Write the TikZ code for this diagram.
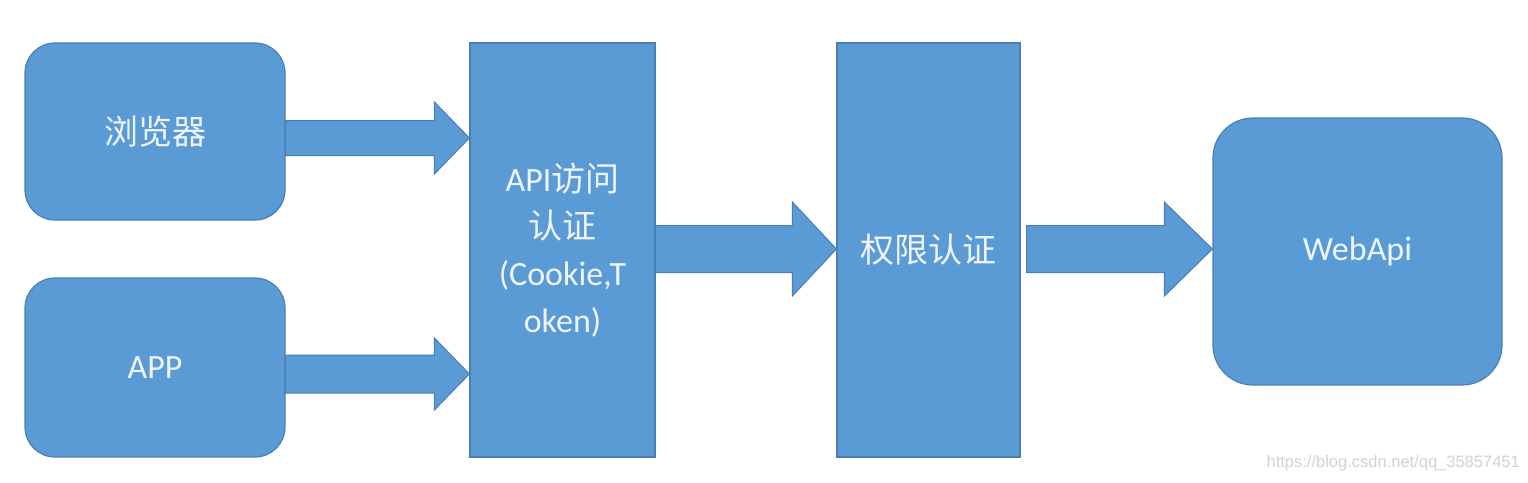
\documentclass[tikz,border=0pt]{standalone}
\usepackage{fontspec}
\setmainfont{Carlito}
\newfontfamily\cjk{Noto Sans CJK SC}
\newfontfamily\wm{Liberation Sans}
\usetikzlibrary{calc}
\definecolor{boxfill}{HTML}{5B9BD5}
\definecolor{boxline}{HTML}{4A7FB5}
\definecolor{txt}{HTML}{EEF4FB}
\definecolor{wmgray}{HTML}{D2D2D2}
\tikzset{
  box/.style={draw=boxline, fill=boxfill, line width=1.2pt, text=txt, align=center,
    inner sep=0pt, font=\fontsize{34}{47}\selectfont},
  roundbox/.style={box, rounded corners=30pt},
  fat/.style={draw=boxline, fill=boxfill, line width=1pt, line join=miter},
}
% #1 start, #2 tip, #3 shaft half width, #4 head half width, #5 head length
\newcommand\fatarrow[5]{%
  \draw[fat] let \p1=(#1), \p2=(#2) in
    (\x1,\y1+#3) -- (\x2-#5,\y1+#3) -- (\x2-#5,\y1+#4) -- (\x2,\y2)
    -- (\x2-#5,\y1-#4) -- (\x2-#5,\y1-#3) -- (\x1,\y1-#3) -- cycle;}
\begin{document}
\begin{tikzpicture}[x=1pt,y=-1pt]
\useasboundingbox[fill=white] (0,0) rectangle (1528,482);
\node[roundbox, minimum width=260pt, minimum height=177pt] (br) at (155,131.5) {\cjk 浏览器};
\node[roundbox, minimum width=260pt, minimum height=179pt] (app) at (155,367.5) {APP};
\node[box, minimum width=185pt, minimum height=414pt] (api) at (562.5,250)
  {API{\cjk 访问}\\{\cjk 认证}\\(Cookie,T\\oken)};
\node[box, minimum width=183pt, minimum height=414pt] (perm) at (928.5,250) {\cjk 权限认证};
\node[box, rounded corners=40pt, minimum width=289pt, minimum height=267pt] (web) at (1357.5,251.5) {WebApi};

\coordinate (s1) at (br.east |- 0,138);
\coordinate (t1) at (api.west |- s1);
\coordinate (s2) at (app.east |- 0,374);
\coordinate (t2) at (api.west |- s2);
\coordinate (s3) at (api.east |- 0,249);
\coordinate (t3) at (perm.west |- s3);
\coordinate (s4) at ($(perm.east |- 0,249)+(6,0)$);
\coordinate (t4) at (web.west |- s4);

\fatarrow{s1}{t1}{17.5pt}{36pt}{35pt}
\fatarrow{s2}{t2}{19pt}{36pt}{35pt}
\fatarrow{s3}{t3}{23.5pt}{47pt}{44pt}
\fatarrow{s4}{t4}{23.5pt}{47pt}{48pt}

\node[anchor=east, text=wmgray, inner sep=0pt, font=\wm\fontsize{16.5}{20}\selectfont] (wmark) at (1520,463) {https://blog.csdn.net/qq\_35857451};
\end{tikzpicture}
\end{document}
